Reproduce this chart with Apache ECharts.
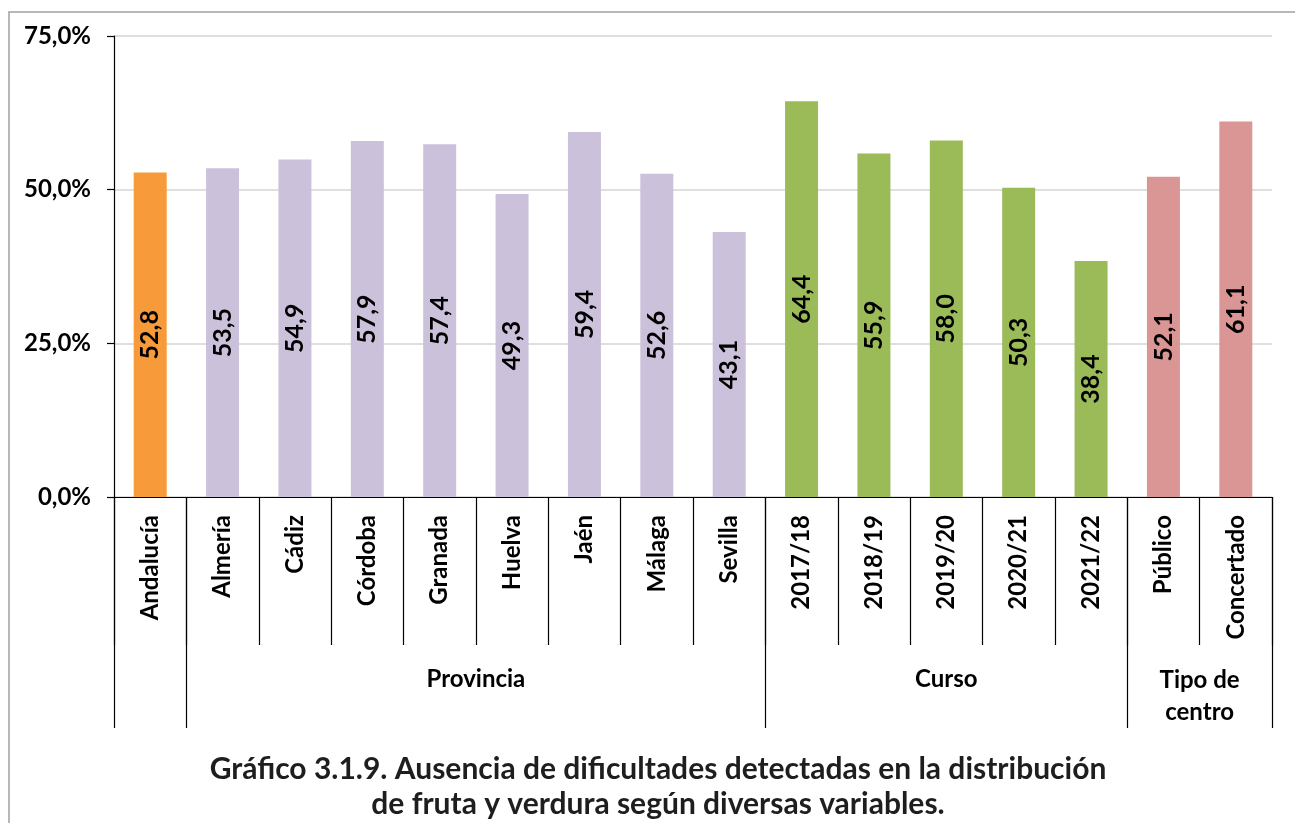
<!DOCTYPE html>
<html>
<head>
<meta charset="utf-8">
<script src="https://cdn.jsdelivr.net/npm/echarts@6/dist/echarts.min.js"></script>
<style>
  html, body { margin: 0; padding: 0; background: #fff; }
  #chart { width: 1295px; height: 823px; }
</style>
</head>
<body>
<div id="chart"></div>
<script>
const categories = ["Andalucía", "Almería", "Cádiz", "Córdoba", "Granada", "Huelva", "Jaén", "Málaga", "Sevilla",
  "2017/18", "2018/19", "2019/20", "2020/21", "2021/22", "Público", "Concertado"];
const values = [52.8, 53.5, 54.9, 57.9, 57.4, 49.3, 59.4, 52.6, 43.1, 64.4, 55.9, 58.0, 50.3, 38.4, 52.1, 61.1];
const barColors = ["#F79A3A", "#CCC1DA", "#CCC1DA", "#CCC1DA", "#CCC1DA", "#CCC1DA", "#CCC1DA", "#CCC1DA", "#CCC1DA",
  "#9BBB59", "#9BBB59", "#9BBB59", "#9BBB59", "#9BBB59", "#D99694", "#D99694"];
// groups: label, first and last category index
const groupNames = ["Provincia", "Curso", "Tipo de\ncentro"];
const groupStart = [1, 9, 14];
const groupEnd = [8, 13, 15];
const yTicks = [0, 25, 50, 75];

const fontFam = "Lato, 'Open Sans', sans-serif";
const pct = (v) => v.toFixed(1).replace(".", ",") + "%";

const chart = echarts.init(document.getElementById("chart"));

const option = {
  animation: false,
  grid: { left: 114, right: 23, top: 36, bottom: 326, containLabel: false },
  xAxis: [
    {
      type: "category",
      data: categories,
      position: "bottom",
      axisLine: { lineStyle: { color: "#000", width: 1.2 } },
      axisTick: { show: true, length: 148, lineStyle: { color: "#000", width: 1.2 } },
      axisLabel: {
        rotate: 90,
        interval: 0,
        margin: 18,
        color: "#000",
        fontSize: 24,
        fontWeight: "bold",
        fontFamily: fontFam,
      },
    },
    {
      type: "category",
      data: categories,
      position: "bottom",
      axisLine: { show: false },
      axisTick: {
        show: true,
        length: 231,
        interval: (i) => i === 0 || groupStart.indexOf(i) >= 0,
        lineStyle: { color: "#000", width: 1.2 },
      },
      axisLabel: { show: false },
    },
  ],
  yAxis: {
    type: "value",
    min: yTicks[0],
    max: yTicks[yTicks.length - 1],
    interval: 25,
    axisLine: { show: true, lineStyle: { color: "#000", width: 1.2 } },
    axisTick: { show: true, length: 7, lineStyle: { color: "#000", width: 1.2 } },
    splitLine: { lineStyle: { color: "#d4d4d4", width: 1.5 } },
    axisLabel: {
      formatter: pct,
      margin: 23,
      color: "#000",
      fontSize: 24,
      fontWeight: "bold",
      fontFamily: fontFam,
    },
  },
  series: [
    {
      type: "bar",
      xAxisIndex: 0,
      barWidth: 33,
      data: values.map((v, i) => ({ value: v, itemStyle: { color: barColors[i] } })),
      label: {
        show: true,
        position: "inside",
        rotate: 90,
        formatter: (p) => p.value.toFixed(1).replace(".", ","),
        color: "#000",
        fontSize: 25,
        fontWeight: "bold",
        fontFamily: fontFam,
      },
    },
  ],
};

chart.setOption(option);

// group labels under the category labels, centred on each group span
const groupText = groupNames.map((name, g) => {
  const x0 = chart.convertToPixel({ xAxisIndex: 0 }, groupStart[g]);
  const x1 = chart.convertToPixel({ xAxisIndex: 0 }, groupEnd[g]);
  return {
    type: "text",
    x: (x0 + x1) / 2,
    y: 679,
    style: {
      text: name,
      align: "center",
      verticalAlign: "middle",
      fill: "#000",
      font: "bold 24px " + fontFam,
      lineHeight: 32,
    },
  };
});
groupText[2].y = 696;

chart.setOption({
  graphic: [
    {
      type: "rect",
      shape: { x: 9, y: 12, width: 1400, height: 1000 },
      style: { fill: null, stroke: "#a0a0a0", lineWidth: 1.5 },
      silent: true,
    },
    ...groupText,
    {
      type: "text",
      x: 658,
      y: 787,
      style: {
        text: "Gráfico 3.1.9. Ausencia de dificultades detectadas en la distribución\nde fruta y verdura según diversas variables.",
        align: "center",
        verticalAlign: "middle",
        fill: "#1e1e1e",
        font: "bold 30px " + fontFam,
        lineHeight: 35,
      },
    },
  ],
});
</script>
</body>
</html>
